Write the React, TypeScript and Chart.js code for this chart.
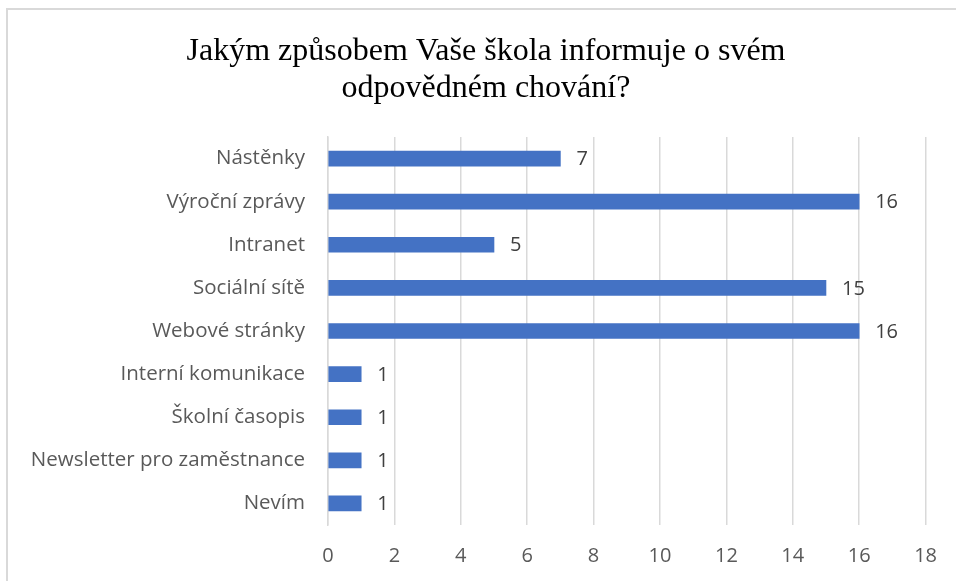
import React, { useEffect, useRef } from "react";
import { Chart, registerables } from "chart.js";

Chart.register(...registerables);

const titleLines = ["Jakým způsobem Vaše škola informuje o svém", "odpovědném chování?"];
const categories = [
  "Nástěnky",
  "Výroční zprávy",
  "Intranet",
  "Sociální sítě",
  "Webové stránky",
  "Interní komunikace",
  "Školní časopis",
  "Newsletter pro zaměstnance",
  "Nevím",
];
const values = [7, 16, 5, 15, 16, 1, 1, 1, 1];
const axisMin = 0;
const axisMax = 18;
const axisStep = 2;

const LABEL_FONT = "'Open Sans', 'Liberation Sans', sans-serif";
const TITLE_FONT = "'Liberation Serif', 'Times New Roman', serif";

const frameTitleLabels = {
  id: "frameTitleLabels",
  beforeDraw(chart: any) {
    const ctx = chart.ctx;
    ctx.save();
    ctx.fillStyle = "#ffffff";
    ctx.fillRect(0, 0, chart.width, chart.height);
    ctx.strokeStyle = "#d9d9d9";
    ctx.lineWidth = 2;
    ctx.beginPath();
    ctx.moveTo(7, chart.height);
    ctx.lineTo(7, 9);
    ctx.lineTo(chart.width, 9);
    ctx.stroke();
    // title
    ctx.fillStyle = "#000000";
    ctx.font = `32px ${TITLE_FONT}`;
    ctx.textAlign = "center";
    ctx.textBaseline = "middle";
    titleLines.forEach((line, i) => {
      ctx.fillText(line, 486, 52 + i * 37);
    });
    ctx.restore();
  },
  afterDatasetsDraw(chart: any) {
    const ctx = chart.ctx;
    const meta = chart.getDatasetMeta(0);
    const data = chart.data.datasets[0].data;
    ctx.save();
    ctx.fillStyle = "#404040";
    ctx.font = `20px ${LABEL_FONT}`;
    ctx.textAlign = "left";
    ctx.textBaseline = "middle";
    meta.data.forEach((bar: any, i: number) => {
      ctx.fillText(String(data[i]), bar.x + 16, bar.y + 1);
    });
    ctx.restore();
  },
};

export default function App() {
  const ref = useRef<HTMLCanvasElement | null>(null);
  useEffect(() => {
    if (!ref.current) return;
    const chart = new Chart(ref.current, {
      type: "bar",
      data: {
        labels: categories,
        datasets: [
          {
            data: values,
            backgroundColor: "#4472C4",
            borderWidth: 0,
            barThickness: 15,
          },
        ],
      },
      plugins: [frameTitleLabels],
      options: {
        indexAxis: "y",
        responsive: false,
        animation: false,
        layout: { padding: { left: 12, right: 28, top: 137, bottom: 0 } },
        plugins: {
          legend: { display: false },
          tooltip: { enabled: false },
          title: { display: false },
        },
        scales: {
          x: {
            min: axisMin,
            max: axisMax,
            ticks: {
              stepSize: axisStep,
              color: "#595959",
              font: { family: LABEL_FONT, size: 20 },
              padding: 19,
            },
            grid: { color: "#d9d9d9", lineWidth: 1.5, drawTicks: false },
            border: { display: false },
            afterFit(scale: any) {
              scale.height = 56;
            },
          },
          y: {
            ticks: {
              color: "#595959",
              font: { family: LABEL_FONT, size: 20.5 },
              padding: 23,
            },
            grid: { display: false, drawTicks: false },
            border: { display: true, color: "#d9d9d9", width: 1.5 },
            afterFit(scale: any) {
              scale.width = 316;
            },
          },
        },
      },
    });
    return () => chart.destroy();
  }, []);
  return (
    <div style={{ position: "absolute", left: 0, top: 0, width: 956, height: 581 }}>
      <canvas ref={ref} width={956} height={581} />
    </div>
  );
}
